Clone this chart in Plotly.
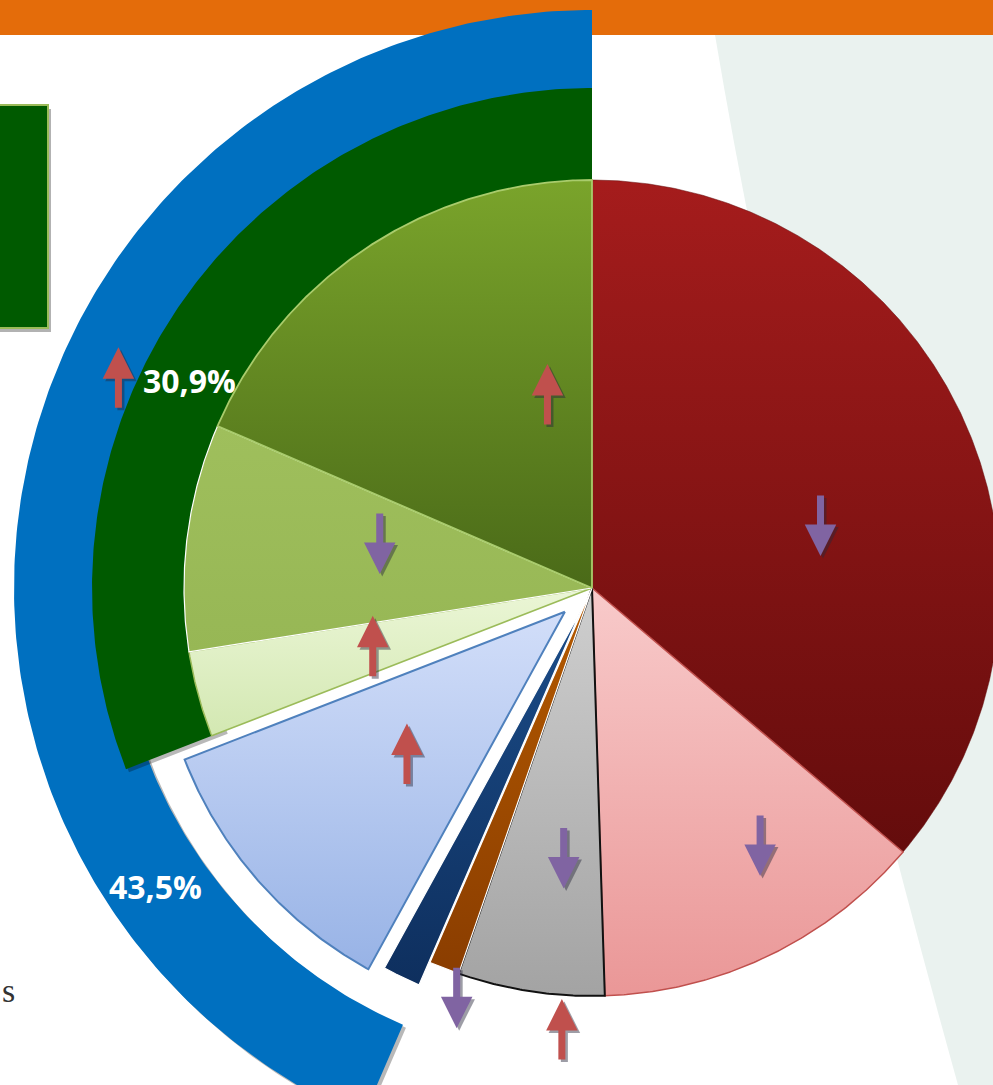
import numpy as np
import plotly.graph_objects as go

W, H = 993, 1085

# ---- data -------------------------------------------------------------
# slices, clockwise from 12 o'clock
segments = ["Segment A", "Segment B", "Segment C", "Segment D", "Segment E",
            "Segment F", "Segment G", "Segment H", "Segment I"]
shares = [36.2, 13.3, 5.8, 1.2, 1.5, 11.1, 3.4, 9.0, 18.5]
trend = ["down", "down", "down", "down", "up", "up", "up", "down", "up"]

# group totals drawn as outer bands (counter-clockwise from 12 o'clock)
group_names = ["Grupa zielona", "Grupa niebieska"]
group_shares = [30.9, 43.5]
group_trend = [None, "up"]

# ---- styles -----------------------------------------------------------
slice_top = ["#a51c1c", "#f8caca", "#cfcfcf", "#b55a00", "#1b4c88",
             "#d2def9", "#ebf6d6", "#9fbf5c", "#7aa42b"]
slice_bottom = ["#640c0c", "#ea9797", "#a3a3a3", "#8a3d00", "#0e2f5e",
                "#98b3e6", "#d3e8b2", "#97b755", "#4a6a18"]
slice_edge = ["#7a1010", "#c0504d", "#111111", "#ffffff", "#ffffff",
              "#4f81bd", "#9bbb59", "#ffffff", "#a9cc6c"]
slice_edge_w = [0, 1.5, 2, 1.2, 1.2, 2, 1.5, 1.2, 1.8]
slice_pull = [0, 0, 0, 0, 25, 36, 0, 0, 0]

group_color = ["#005a00", "#0070c0"]
group_r = [(394, 500), (476, 578)]

CX, CY, R = 592.0, 497.0, 408.0   # pie centre (y up) and radius, px units

UP_COL, DOWN_COL = "#c0504d", "#8064a2"
# arrow spots (angle clockwise from top, distance from centre)
slice_arrow_spot = [(74.6, 237), (146.8, 307), (186.0, 271), (198.3, 431),
                    (183.9, 443), (228.0, 249), (255.0, 227), (282.0, 217),
                    (347.0, 198)]
group_arrow_spot = [None, (293.9, 518)]
group_label_spot = [(297.3, 453), (235.6, 529)]


def polar_xy(theta, r, cx=CX, cy=CY):
    t = np.radians(theta)
    return cx + r * np.sin(t), cy + r * np.cos(t)


fig = go.Figure()

# ---- outer group bands ------------------------------------------------
def band_xy(a0, a1, r_in, r_out, dx=0.0, dy=0.0):
    th = np.linspace(a0, a1, 240)
    xo, yo = polar_xy(th, r_out)
    xi, yi = polar_xy(th[::-1], r_in)
    xs = np.concatenate([xo, xi, xo[:1]]) + dx
    ys = np.concatenate([yo, yi, yo[:1]]) + dy
    return xs, ys

for k in [1, 0]:
    r_in, r_out = group_r[k]
    a0 = 360.0 - group_shares[k] * 3.6
    # soft drop shadow along the lower part of the band
    sx, sy = band_xy(a0, a0 + (360.0 - a0) * 0.7, r_in, r_out, 3, -3)
    fig.add_trace(go.Scatter(x=sx, y=sy, mode="lines", fill="toself",
                             fillcolor="rgba(0,0,0,0.28)", line=dict(width=0),
                             hoverinfo="skip", showlegend=False))
    bx, by = band_xy(a0, 360.0, r_in, r_out)
    fig.add_trace(go.Scatter(x=bx, y=by, mode="lines", fill="toself",
                             fillcolor=group_color[k], line=dict(width=0),
                             name=group_names[k], hoverinfo="skip",
                             showlegend=False))

# ---- pie slices -------------------------------------------------------
starts = np.concatenate([[0.0], np.cumsum(shares)[:-1]]) * 3.6
for i, name in enumerate(segments):
    a0 = starts[i]
    a1 = a0 + shares[i] * 3.6
    mid = np.radians((a0 + a1) / 2)
    ox = slice_pull[i] * np.sin(mid)
    oy = slice_pull[i] * np.cos(mid)
    th = np.linspace(a0, a1, max(10, int((a1 - a0) * 3)))
    ax_, ay_ = polar_xy(th, R, CX + ox, CY + oy)
    xs = np.concatenate([[CX + ox], ax_, [CX + ox]])
    ys = np.concatenate([[CY + oy], ay_, [CY + oy]])
    fig.add_trace(go.Scatter(
        x=xs, y=ys, mode="lines", fill="toself", name=name,
        fillgradient=dict(type="vertical",
                          colorscale=[[0, slice_bottom[i]], [1, slice_top[i]]]),
        line=dict(color=slice_edge[i] if slice_edge_w[i] else slice_bottom[i],
                  width=max(slice_edge_w[i], 0.5)),
        hoverinfo="skip", showlegend=False))

# ---- arrows and labels ------------------------------------------------
annotations = []

def add_arrow(x, y, direction):
    length = 62
    color = UP_COL if direction == "up" else DOWN_COL
    tip_y = y + length / 2 if direction == "up" else y - length / 2
    ay = length if direction == "up" else -length
    for dx, dy, col in [(2.5, -2.5, "rgba(40,40,60,0.45)"), (0, 0, color)]:
        annotations.append(dict(x=x + dx, y=tip_y + dy, xref="x", yref="y",
                                ax=0, ay=ay, text="", showarrow=True,
                                arrowhead=2, arrowsize=0.9, arrowwidth=7,
                                arrowcolor=col, standoff=0))

for i, d in enumerate(trend):
    ang, rr = slice_arrow_spot[i]
    x, y = polar_xy(ang, rr)
    add_arrow(x, y, d)

for k, d in enumerate(group_trend):
    if d:
        ang, rr = group_arrow_spot[k]
        x, y = polar_xy(ang, rr)
        add_arrow(x, y, d)

for k, v in enumerate(group_shares):
    ang, rr = group_label_spot[k]
    x, y = polar_xy(ang, rr)
    annotations.append(dict(x=x, y=y, xref="x", yref="y", showarrow=False,
                            text=f"{v:.1f}".replace(".", ",") + "%",
                            font=dict(family="Open Sans", size=32,
                                      color="white", weight="bold")))

annotations.append(dict(x=0, y=H - 990, xref="x", yref="y", showarrow=False,
                        xanchor="left", text="s",
                        font=dict(family="Liberation Serif", size=34,
                                  color="#333333")))

# ---- decoration -------------------------------------------------------
shapes = [
    dict(type="path", xref="x", yref="y", layer="below",
         path=f"M 715,{H} L 715,{H - 35} Q 790,605 958,0 L {W},0 L {W},{H} Z",
         fillcolor="#eaf2ef", line=dict(width=0)),
    dict(type="rect", xref="x", yref="y", layer="below",
         x0=0, x1=W, y0=H - 35, y1=H, fillcolor="#e46c0a", line=dict(width=0)),
    dict(type="rect", xref="x", yref="y", x0=-4, x1=51, y0=H - 332, y1=H - 109,
         fillcolor="rgba(0,0,0,0.3)", line=dict(width=0)),
    dict(type="rect", xref="x", yref="y", x0=-4, x1=48, y0=H - 328, y1=H - 105,
         fillcolor="#005a00", line=dict(color="#9bbb59", width=2)),
]

fig.update_layout(
    width=W, height=H, margin=dict(l=0, r=0, t=0, b=0),
    paper_bgcolor="white", plot_bgcolor="rgba(0,0,0,0)",
    xaxis=dict(range=[0, W], visible=False, fixedrange=True),
    yaxis=dict(range=[0, H], visible=False, fixedrange=True),
    showlegend=False, shapes=shapes, annotations=annotations,
)

fig.write_html("out.html", config={"displayModeBar": False})
